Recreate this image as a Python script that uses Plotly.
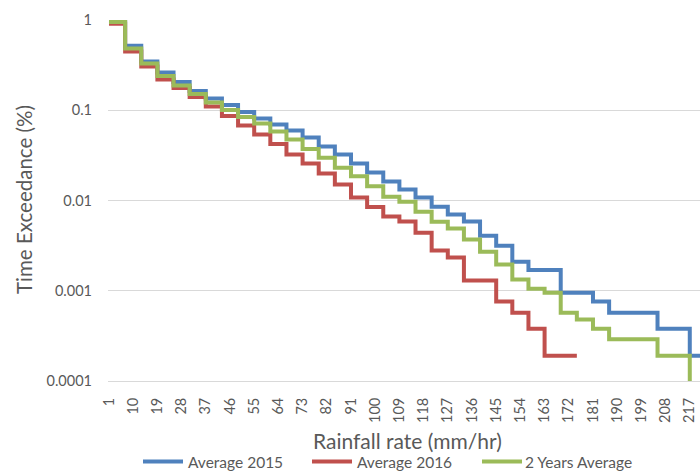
import plotly.graph_objects as go

# ---- data ----
rate_bin_start = [1, 7, 13, 19, 25, 31, 37, 43, 49, 55, 61, 67, 73, 79, 85, 91, 97,
                  103, 109, 115, 121, 127, 133, 139, 145, 151, 157, 163, 169, 175,
                  181, 187, 193, 199, 205, 211, 217]
rate_end_2015 = 222
rate_end_2016 = 175
rate_end_avg = 222

exceed_2015 = [0.98, 0.52, 0.347, 0.262, 0.206, 0.163, 0.135, 0.114, 0.0955, 0.081,
               0.0694, 0.0596, 0.0498, 0.0396, 0.0323, 0.0257, 0.0204, 0.0162, 0.0132,
               0.0108, 0.00855, 0.00698, 0.00584, 0.00408, 0.00316, 0.0021, 0.0017,
               0.0017, 0.00095, 0.00095, 0.00076, 0.00057, 0.00057, 0.00057, 0.00038,
               0.00038, 0.00019]
exceed_2016 = [0.91, 0.448, 0.305, 0.219, 0.176, 0.140, 0.110, 0.0863, 0.0677, 0.0538,
               0.0422, 0.0323, 0.0257, 0.0199, 0.0150, 0.0108, 0.00845, 0.00663,
               0.00584, 0.0044, 0.00279, 0.00233, 0.0013, 0.0013, 0.00076, 0.00057,
               0.00038, 0.00019, 0.00019]
exceed_avg = [0.95, 0.483, 0.330, 0.239, 0.188, 0.151, 0.122, 0.1005, 0.0841, 0.0712,
              0.0581, 0.0473, 0.0373, 0.0297, 0.023, 0.0186, 0.0144, 0.011, 0.0097,
              0.0075, 0.0058, 0.0049, 0.0037, 0.0027, 0.00195, 0.00133, 0.00105,
              0.00095, 0.00057, 0.00048, 0.00038, 0.00029, 0.00029, 0.00029, 0.00019,
              0.00019, 0.000095]

x_ticks = [1, 10, 19, 28, 37, 46, 55, 64, 73, 82, 91, 100, 109, 118, 127, 136, 145,
           154, 163, 172, 181, 190, 199, 208, 217]
y_ticks = [1, 0.1, 0.01, 0.001, 0.0001]
y_tick_text = ["1", "0.1", "0.01", "0.001", "0.0001"]

series = [
    ("Average 2015", exceed_2015, rate_end_2015, "#4F81BD"),
    ("Average 2016", exceed_2016, rate_end_2016, "#C0504D"),
    ("2 Years Average", exceed_avg, rate_end_avg, "#9BBB59"),
]

FONT = "Lato, 'Open Sans', sans-serif"
GRAY = "#595959"

W, H = 700, 473
ML, MR, MT, MB = 108, 0, 20, 92
PW, PH = W - ML - MR, H - MT - MB


def px_x(px):
    return (px - ML) / PW


def px_y(py):
    return (H - MB - py) / PH


fig = go.Figure()
for name, vals, end, color in series:
    n = len(vals)
    xs = rate_bin_start[:n] + [end]
    ys = vals + [vals[-1]]
    fig.add_trace(go.Scatter(x=xs, y=ys, mode="lines", name=name,
                             line=dict(color=color, width=4, shape="hv"),
                             showlegend=False))

fig.update_layout(
    width=W, height=H,
    margin=dict(l=ML, r=MR, t=MT, b=MB),
    paper_bgcolor="white", plot_bgcolor="white",
    font=dict(family=FONT, color=GRAY, size=14.5),
    xaxis=dict(range=[0.63, 220.8], tickvals=x_ticks,
               ticktext=[str(v) for v in x_ticks], tickangle=-90,
               showgrid=False, zeroline=False, showline=True,
               linecolor="#D9D9D9", linewidth=1, ticks="",
               ticklabelstandoff=10,
               tickfont=dict(family=FONT, size=14.5, color=GRAY)),
    yaxis=dict(type="log", range=[-4, 0], tickvals=y_ticks, ticktext=y_tick_text,
               showgrid=True, gridcolor="#D9D9D9", gridwidth=1, zeroline=False,
               showline=False, ticks="", ticklabelstandoff=15,
               tickfont=dict(family=FONT, size=14.5, color=GRAY)),
)

annotations = [
    dict(text="Time Exceedance (%)", x=px_x(24), y=px_y(200), textangle=-90,
         font=dict(size=20.5, color=GRAY, family=FONT)),
    dict(text="Rainfall rate (mm/hr)", x=px_x(407), y=px_y(440),
         font=dict(size=21, color=GRAY, family=FONT)),
]
shapes = []
legend_pos = [(143, 186), (312, 355), (482, 523)]
for (name, vals, end, color), (lx, tx) in zip(series, legend_pos):
    shapes.append(dict(type="line", xref="paper", yref="paper",
                       x0=px_x(lx), x1=px_x(lx + 40), y0=px_y(461.5), y1=px_y(461.5),
                       line=dict(color=color, width=4)))
    annotations.append(dict(text=name, x=px_x(tx), y=px_y(462), xanchor="left",
                            font=dict(size=15.5, color=GRAY, family=FONT)))

for a in annotations:
    a.setdefault("xref", "paper")
    a.setdefault("yref", "paper")
    a.setdefault("showarrow", False)
    a.setdefault("xanchor", "center")
    a.setdefault("yanchor", "middle")

fig.update_layout(annotations=annotations, shapes=shapes)
fig.write_html("out.html",
               config={"displayModeBar": False},
               post_script="document.body.style.margin='0';"
                           "document.body.style.overflow='hidden';")
